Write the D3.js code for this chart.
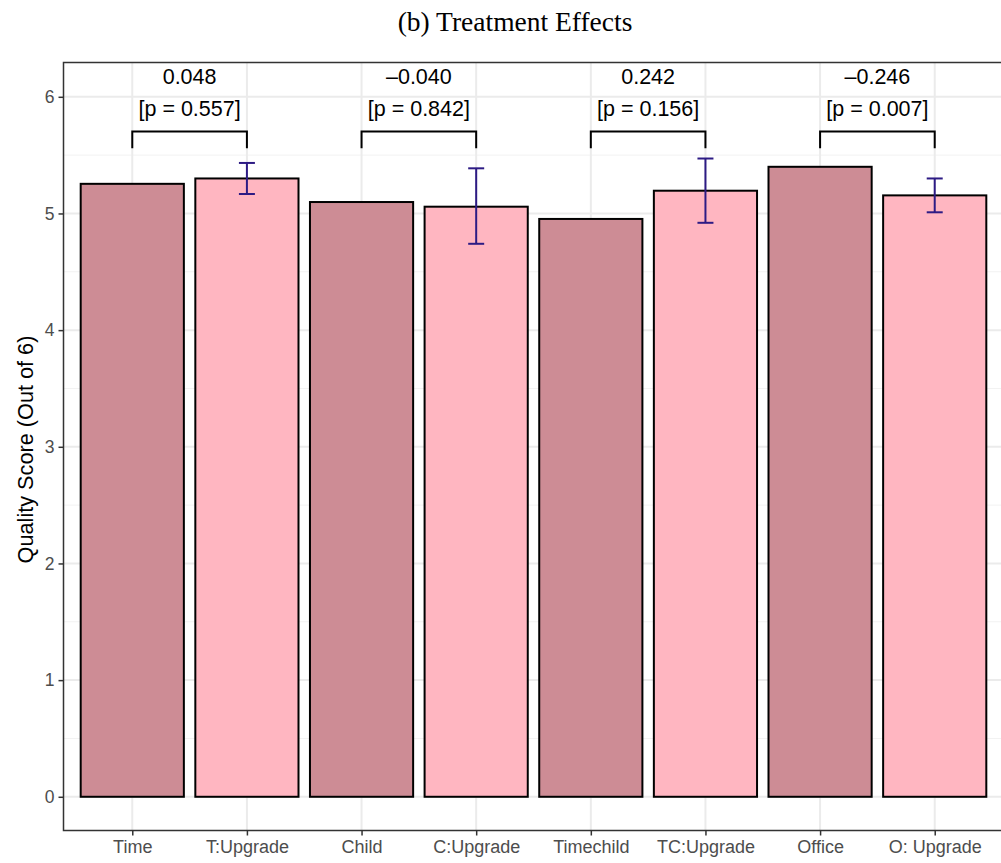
<!DOCTYPE html>
<html><head><meta charset="utf-8">
<script src="https://cdn.jsdelivr.net/npm/d3@7"></script>
<style>body{margin:0;background:#fff}svg{display:block}</style>
</head><body>
<svg id="c" width="1001" height="863"></svg>
<script>
const categories = ["Time","T:Upgrade","Child","C:Upgrade","Timechild","TC:Upgrade","Office","O: Upgrade"];
const groupType = ["base","upgrade","base","upgrade","base","upgrade","base","upgrade"];
const means = [5.254, 5.300, 5.098, 5.058, 4.953, 5.195, 5.400, 5.155];
const errLow = [null, 5.167, null, 4.740, null, 4.920, null, 5.010];
const errHigh = [null, 5.433, null, 5.387, null, 5.471, null, 5.300];
const pairA = ["Time","Child","Timechild","Office"];
const pairB = ["T:Upgrade","C:Upgrade","TC:Upgrade","O: Upgrade"];
const effects = ["0.048","\u20130.040","0.242","\u20130.246"];
const pvalues = ["0.557","0.842","0.156","0.007"];
const yTicks = [0,1,2,3,4,5,6];
const yMinor = [0.5,1.5,2.5,3.5,4.5,5.5];

const svg = d3.select("#c");
const L = 63.5, R = 1003.5, T = 62.5, B = 830.5;
const x = d3.scalePoint().domain(categories).range([L, R]).padding(0.6);
const y = d3.scaleLinear().domain([-0.289, 6.294]).range([B, T]);
const bw = x.step() * 0.9;
const fill = {base: "#CD8C95", upgrade: "#FFB6C1"};
const errColor = "#2D1B84";

// grid
const g = svg.append("g");
g.selectAll(".ymin").data(yMinor).join("line")
  .attr("x1", L).attr("x2", R).attr("y1", d => y(d)).attr("y2", d => y(d))
  .attr("stroke", "#F2F2F2").attr("stroke-width", 1);
g.selectAll(".ymaj").data(yTicks).join("line")
  .attr("x1", L).attr("x2", R).attr("y1", d => y(d)).attr("y2", d => y(d))
  .attr("stroke", "#EBEBEB").attr("stroke-width", 2);
g.selectAll(".xmaj").data(categories).join("line")
  .attr("x1", d => x(d)).attr("x2", d => x(d)).attr("y1", T).attr("y2", B)
  .attr("stroke", "#EBEBEB").attr("stroke-width", 2);

// bars
const data = categories.map((c, i) => ({c, t: groupType[i], v: means[i], lo: errLow[i], hi: errHigh[i]}));
svg.selectAll(".bar").data(data).join("rect")
  .attr("x", d => x(d.c) - bw / 2).attr("width", bw)
  .attr("y", d => y(d.v)).attr("height", d => y(0) - y(d.v))
  .attr("fill", d => fill[d.t]).attr("stroke", "#000").attr("stroke-width", 2);

// error bars
const eb = data.filter(d => d.lo != null);
const cap = 16;
const ebg = svg.selectAll(".eb").data(eb).join("g").attr("stroke", errColor).attr("stroke-width", 2).attr("fill", "none");
ebg.append("line").attr("x1", d => x(d.c)).attr("x2", d => x(d.c)).attr("y1", d => y(d.lo)).attr("y2", d => y(d.hi));
ebg.append("line").attr("x1", d => x(d.c) - cap / 2).attr("x2", d => x(d.c) + cap / 2).attr("y1", d => y(d.lo)).attr("y2", d => y(d.lo));
ebg.append("line").attr("x1", d => x(d.c) - cap / 2).attr("x2", d => x(d.c) + cap / 2).attr("y1", d => y(d.hi)).attr("y2", d => y(d.hi));

// brackets & annotations
const pairs = pairA.map((a, i) => ({a, b: pairB[i], e: effects[i], p: pvalues[i]}));
const bTop = y(5.703), bEnd = y(5.56);
svg.selectAll(".br").data(pairs).join("path")
  .attr("d", d => `M${x(d.a)},${bEnd}V${bTop}H${x(d.b)}V${bEnd}`)
  .attr("fill", "none").attr("stroke", "#000").attr("stroke-width", 2);
const tf = "'Liberation Sans', Arial, Helvetica, sans-serif";
svg.selectAll(".ef").data(pairs).join("text")
  .attr("x", d => (x(d.a) + x(d.b)) / 2).attr("y", y(6.18)).attr("dy", "0.36em")
  .attr("text-anchor", "middle").attr("font-family", tf).attr("font-size", 21.5).attr("fill", "#000")
  .text(d => d.e);
svg.selectAll(".pv").data(pairs).join("text")
  .attr("x", d => (x(d.a) + x(d.b)) / 2).attr("y", y(5.906)).attr("dy", "0.36em")
  .attr("text-anchor", "middle").attr("font-family", tf).attr("font-size", 21.5).attr("fill", "#000")
  .text(d => `[p = ${d.p}]`);

// panel border
svg.append("rect").attr("x", L).attr("y", T).attr("width", R - L).attr("height", B - T)
  .attr("fill", "none").attr("stroke", "#333333").attr("stroke-width", 1.5);

// axes
const yAxis = d3.axisLeft(y).tickValues(yTicks).tickSize(5).tickPadding(4).tickFormat(d3.format("d"));
const ya = svg.append("g").attr("transform", `translate(${L},0)`).call(yAxis);
ya.select(".domain").remove();
ya.selectAll(".tick line").attr("stroke", "#333333").attr("stroke-width", 1.5);
ya.selectAll(".tick text").attr("fill", "#4D4D4D").attr("font-family", tf).attr("font-size", 17.5);

const xAxis = d3.axisBottom(x).tickSize(5).tickPadding(5);
const xa = svg.append("g").attr("transform", `translate(0,${B})`).call(xAxis);
xa.select(".domain").remove();
xa.selectAll(".tick line").attr("stroke", "#333333").attr("stroke-width", 1.5);
xa.selectAll(".tick text").attr("fill", "#4D4D4D").attr("font-family", tf).attr("font-size", 18);

// axis title
svg.append("text").attr("transform", `translate(33,${(T + B) / 2 + 3}) rotate(-90)`)
  .attr("text-anchor", "middle").attr("font-family", tf).attr("font-size", 21.7).attr("fill", "#000")
  .text("Quality Score (Out of 6)");

// title
svg.append("text").attr("x", 515).attr("y", 31).attr("text-anchor", "middle")
  .attr("font-family", "'Liberation Serif', 'Times New Roman', serif").attr("font-size", 27.5).attr("fill", "#000")
  .text("(b) Treatment Effects");
</script>
</body></html>
